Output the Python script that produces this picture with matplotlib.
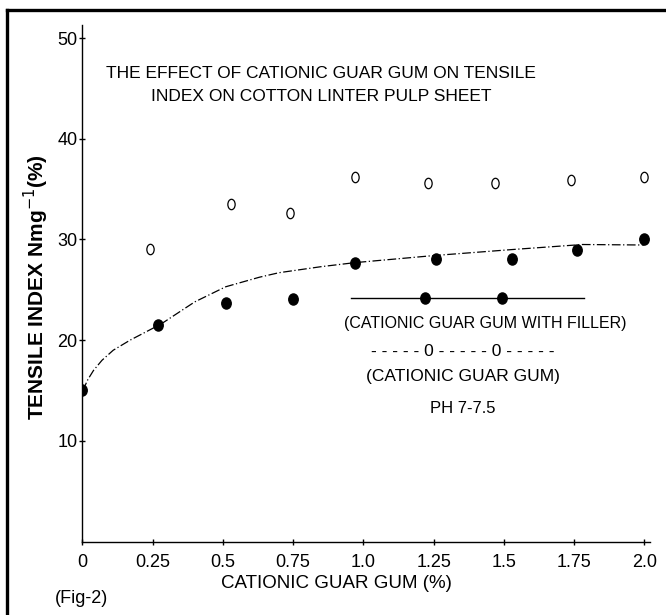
import matplotlib
matplotlib.use('Agg')
import matplotlib.pyplot as plt
from matplotlib.path import Path
from matplotlib.transforms import Affine2D
from matplotlib.lines import Line2D

# data
guar_x = [0.24, 0.53, 0.74, 0.97, 1.23, 1.47, 1.74, 2.0]
guar_y = [29.1, 33.5, 32.6, 36.2, 35.6, 35.6, 35.9, 36.2]

filler_x = [0.0, 0.27, 0.51, 0.75, 0.97, 1.26, 1.53, 1.76, 2.0]
filler_y = [15.0, 21.5, 23.7, 24.1, 27.7, 28.1, 28.1, 29.0, 30.0]

# fitted curve through the filler points
fit_x = [0.0, 0.01, 0.02, 0.04, 0.07, 0.11, 0.17, 0.28, 0.40, 0.51, 0.63, 0.70, 0.85, 0.97, 1.25, 1.53, 1.78, 2.0]
fit_y = [15.0, 15.5, 16.1, 17.0, 18.0, 19.0, 20.0, 21.6, 23.8, 25.3, 26.25, 26.7, 27.3, 27.7, 28.4, 29.0, 29.5, 29.45]

x_ticks = [0, 0.25, 0.5, 0.75, 1.0, 1.25, 1.5, 1.75, 2.0]
x_tick_labels = ['0', '0.25', '0.5', '0.75', '1.0', '1.25', '1.5', '1.75', '2.0']
y_ticks = [10, 20, 30, 40, 50]

plt.rcParams['font.family'] = ['Liberation Sans', 'DejaVu Sans']

# slightly tall ellipses, like the scanned markers
open_mark = Path.unit_circle().transformed(Affine2D().scale(0.7, 1.0))
full_mark = Path.unit_circle().transformed(Affine2D().scale(0.85, 1.0))

fig = plt.figure(figsize=(6.66, 6.15), dpi=100)
ax = fig.add_axes([0.1236, 0.1195, 0.8524, 0.8398])

ax.plot(fit_x, fit_y, color='black', lw=0.9, linestyle=(0, (7, 2, 1, 2)))
ax.plot(filler_x, filler_y, linestyle='none', marker=full_mark, markersize=8,
        color='black')
ax.plot(guar_x, guar_y, linestyle='none', marker=open_mark, markersize=7.5,
        markerfacecolor='white', markeredgecolor='black', markeredgewidth=0.9)

ax.set_xlim(0, 2.02)
ax.set_ylim(0, 51.3)
ax.spines['top'].set_visible(False)
ax.spines['right'].set_visible(False)
ax.spines['left'].set_linewidth(1.0)
ax.spines['bottom'].set_linewidth(1.0)

ax.set_xticks(x_ticks)
ax.set_xticklabels(x_tick_labels)
ax.set_yticks(y_ticks)
ax.tick_params(axis='x', direction='inout', length=4, width=1, pad=7, labelsize=13)
ax.tick_params(axis='y', direction='inout', length=4, width=1, pad=1.5, labelsize=13)

# title inside the plot
ax.text(0.85, 46.5, 'THE EFFECT OF CATIONIC GUAR GUM ON TENSILE',
        ha='center', va='center', fontsize=12.5)
ax.text(0.85, 44.2, 'INDEX ON COTTON LINTER PULP SHEET',
        ha='center', va='center', fontsize=12.5)

# hand drawn legend
ax.plot([0.956, 1.785], [24.19, 24.19], color='black', lw=1.0)
ax.plot([1.22, 1.494], [24.19, 24.19], linestyle='none', marker=full_mark,
        markersize=8, color='black')
ax.text(1.433, 21.7, '(CATIONIC GUAR GUM WITH FILLER)', ha='center', va='center', fontsize=11.5)
ax.text(1.353, 18.85, '- - - - - 0 - - - - - 0 - - - - -', ha='center', va='center', fontsize=12.5)
ax.text(1.355, 16.4, '(CATIONIC GUAR GUM)', ha='center', va='center', fontsize=12.5)
ax.text(1.355, 13.26, 'PH 7-7.5', ha='center', va='center', fontsize=12)

fig.text(0.5045, 0.052, 'CATIONIC GUAR GUM (%)', ha='center', va='center', fontsize=13.5)
fig.text(0.054, 0.533, r'TENSILE INDEX Nmg$^{-1}$(%)', ha='center', va='center',
         rotation=90, fontsize=15, fontweight='bold')
fig.text(0.1227, 0.0276, '(Fig-2)', ha='center', va='center', fontsize=13)

# page frame, only top and left edges show
fig.add_artist(Line2D([0.0105, 1.0], [0.984, 0.984], color='black', lw=2.4,
                      transform=fig.transFigure))
fig.add_artist(Line2D([0.0105, 0.0105], [0.0, 0.984], color='black', lw=2.4,
                      transform=fig.transFigure))

plt.savefig('out.png', dpi=100)
plt.close()
